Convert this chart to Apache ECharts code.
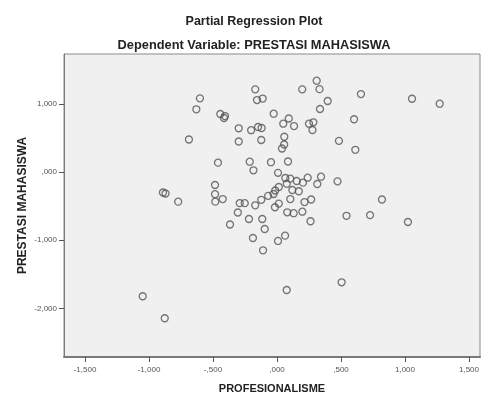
<!DOCTYPE html>
<html>
<head>
<meta charset="utf-8">
<script src="https://cdn.jsdelivr.net/npm/echarts@6/dist/echarts.min.js"></script>
<style>
html,body{margin:0;padding:0;background:#fff;}
#c{width:483px;height:396px;}
</style>
</head>
<body>
<div id="c"></div>
<script>
// Partial regression residuals
var profesionalisme = [
 -0.602,-0.630,-0.443,-0.406,-0.414,-0.688,-0.170,-0.156,-0.112,-0.299,
 -0.202,-0.148,-0.120,-0.299,-0.123,-0.026,-0.461,-0.213,-0.184,-0.047,
  0.008,-0.772,-0.484,-0.484,-0.482,-0.424,-0.291,-0.252,-0.306,-0.170,
 -0.123,-0.069,-0.027,-0.014, 0.014, 0.014,-0.016,-0.219,-0.115,-0.367,
 -0.096,-0.188, 0.008,-0.109,-0.891,-0.871,-1.049,-0.877, 0.076, 0.505,
  0.310, 0.197, 0.332, 0.656, 0.396, 0.336, 0.602, 0.092, 0.049, 0.133,
  0.250, 0.284, 0.277, 0.057, 0.056, 0.039, 0.484, 0.612, 0.086, 0.065,
  0.104, 0.154, 0.203, 0.240, 0.344, 0.315, 0.473, 0.076, 0.120, 0.170,
  0.104, 0.215, 0.267, 0.080, 0.130, 0.198, 0.262, 0.063, 0.543, 0.727,
  0.820, 1.055, 1.271, 1.023
];
var prestasiMahasiswa = [
  1.085, 0.924, 0.855, 0.825, 0.796, 0.480, 1.217, 1.060, 1.082, 0.645,
  0.617, 0.664, 0.649, 0.451, 0.473, 0.859, 0.140, 0.154, 0.028, 0.147,
 -0.009,-0.433,-0.188,-0.323,-0.433,-0.394,-0.455,-0.455,-0.592,-0.486,
 -0.405,-0.347,-0.320,-0.269,-0.217,-0.461,-0.515,-0.687,-0.687,-0.768,
 -0.834,-0.966,-1.010,-1.147,-0.298,-0.313,-1.822,-2.145,-1.730,-1.617,
  1.344, 1.217, 1.220, 1.148, 1.046, 0.928, 0.778, 0.789, 0.712, 0.678,
  0.712, 0.733, 0.620, 0.521, 0.407, 0.348, 0.461, 0.329, 0.157,-0.085,
 -0.095,-0.129,-0.154,-0.081,-0.066,-0.173,-0.134,-0.169,-0.261,-0.280,
 -0.394,-0.438,-0.401,-0.589,-0.602,-0.580,-0.720,-0.932,-0.640,-0.631,
 -0.401, 1.079, 1.006,-0.731
];
var xTicks = [-1.5,-1.0,-0.5,0,0.5,1.0,1.5];
var yTicks = [-2,-1,0,1];
var titleText = 'Partial Regression Plot';
var subtitleText = 'Dependent Variable: PRESTASI MAHASISWA';
var xName = 'PROFESIONALISME';
var yName = 'PRESTASI MAHASISWA';

function fmt(v){
  var s = Math.abs(v).toFixed(3).replace('.', ',');
  if (s.charAt(0) === '0') s = s.slice(1);
  return (v < 0 ? '-' : '') + s;
}

var points = profesionalisme.map(function(x,i){ return [x, prestasiMahasiswa[i]]; });
var font = 'Liberation Sans, Arial, sans-serif';

var chart = echarts.init(document.getElementById('c'));
chart.setOption({
  animation:false,
  backgroundColor:'#ffffff',
  title:[
    {text:titleText, left:249, top:10, textAlign:'center',
     textStyle:{fontFamily:font, fontSize:12.5, fontWeight:'bold', color:'#222'}},
    {text:subtitleText, left:249, top:34, textAlign:'center',
     textStyle:{fontFamily:font, fontSize:12.8, fontWeight:'bold', color:'#222'}}
  ],
  grid:{left:64, right:3, top:54, bottom:39, show:true, backgroundColor:'#f0f0f0',
        borderColor:'#8a8a8a', borderWidth:1, containLabel:false, outerBoundsMode:'none'},
  xAxis:{
    type:'value', min:-1.664, max:1.586,
    name:xName, nameLocation:'middle', nameGap:26, nameMoveOverlap:false,
    nameTextStyle:{fontFamily:font, fontSize:11, fontWeight:'bold', color:'#222'},
    axisLine:{show:true, onZero:false, lineStyle:{color:'#7a7a7a', width:2}},
    axisTick:{show:true, length:5, customValues:xTicks, lineStyle:{color:'#555'}},
    axisLabel:{customValues:xTicks, formatter:fmt, fontFamily:font, fontSize:8, color:'#555', margin:9},
    splitLine:{show:false}
  },
  yAxis:{
    type:'value', min:-2.714, max:1.736,
    name:yName, nameLocation:'middle', nameGap:35, nameMoveOverlap:false,
    nameTextStyle:{fontFamily:font, fontSize:12, fontWeight:'bold', color:'#222'},
    axisLine:{show:true, onZero:false, lineStyle:{color:'#7a7a7a', width:1}},
    axisTick:{show:true, length:5, customValues:yTicks, lineStyle:{color:'#555'}},
    axisLabel:{customValues:yTicks, formatter:fmt, fontFamily:font, fontSize:8, color:'#555', margin:7},
    splitLine:{show:false}
  },
  series:[{
    type:'scatter',
    data:points,
    symbol:'circle',
    symbolSize:7,
    itemStyle:{color:'rgba(0,0,0,0)', borderColor:'#555', borderWidth:1.3}
  }]
});
</script>
</body>
</html>
